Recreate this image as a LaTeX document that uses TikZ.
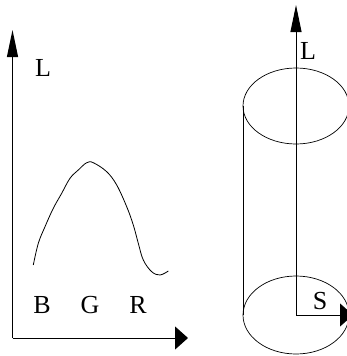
\documentclass[tikz,border=0pt]{standalone}
\usepackage{fontspec}
\setmainfont{Liberation Serif}
\usetikzlibrary{arrows.meta}
\begin{document}
\begin{tikzpicture}[x=1pt,y=-1pt,
  axis/.style={line width=1pt},
  uptip/.style={-{Triangle[length=27pt,width=11pt]}},
  sidetip/.style={-{Triangle[length=13pt,width=23pt]}},
  lbl/.style={font=\fontsize{26}{26}\selectfont, inner sep=0pt},
  rim/.style={line width=0.7pt}]
\useasboundingbox (0,0) rectangle (347,356);
% left graph
\coordinate (O1) at (12.5,338);
\coordinate (Y1) at (12.5,30);
\coordinate (X1) at (188,338);
\draw[axis,uptip] (O1) -- (Y1);
\draw[axis,sidetip] (O1) -- (X1);
\node[lbl] (L1) at (43,68) {L};
\node[lbl] (B) at (42,305) {B};
\node[lbl] (G) at (90,305) {G};
\node[lbl] (R) at (138,305) {R};
\draw[line width=0.8pt] plot[smooth, tension=0.6] coordinates {
 (33.3,265) (38.3,243.3) (45,226.7) (53.3,208.3) (61.7,193.3) (70,178.3)
 (78.3,170) (86.7,162.7) (93.3,162.7) (106.7,171.7) (116.7,185)
 (126.7,206.7) (133.3,225) (138.3,243.3) (143.3,260) (151.7,271.7)
 (160,275) (168.3,271)};
% cylinder
\coordinate (O2) at (296,315);
\coordinate (Y2) at (296,5);
\coordinate (X2) at (353,315);
\coordinate (T) at (296,106);
\coordinate (TL) at (243,106);
\coordinate (BL) at (243,315);
\draw[rim] (T) ellipse [x radius=53, y radius=38];
\draw[rim] (O2) ellipse [x radius=53, y radius=39];
\draw[axis] (TL) -- (BL);
\draw[axis,uptip] (O2) -- (Y2);
\draw[axis,sidetip] (O2) -- (X2);
\node[lbl] (L2) at (308,51) {L};
\node[lbl] (S) at (320,301) {S};
\end{tikzpicture}
\end{document}
